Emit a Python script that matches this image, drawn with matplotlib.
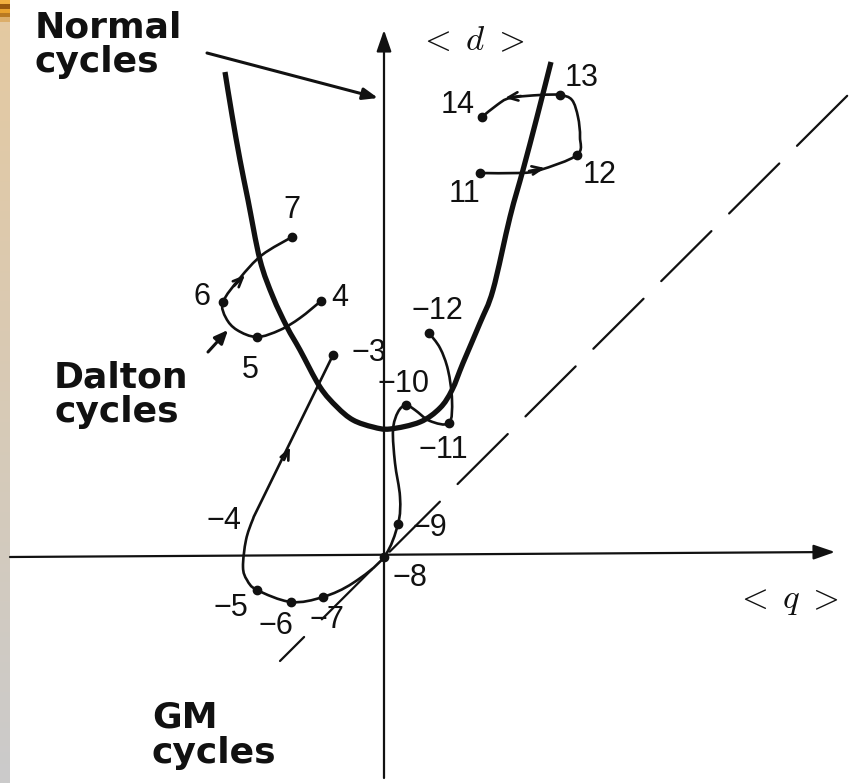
import numpy as np
import matplotlib
matplotlib.use("Agg")
import matplotlib.pyplot as plt
from matplotlib.colors import to_rgb
from matplotlib.path import Path
from matplotlib.patches import PathPatch

plt.rcParams['mathtext.fontset'] = 'cm'
plt.rcParams['lines.scale_dashes'] = False

# ---- phase-plane data: (<q>, <d>) coordinates, origin at the axis crossing ----
normal_q = [-159, -152, -144, -136, -124, -111, -97, -84, -64, -47, -31, -11, 6,
            36, 56, 68, 79, 96, 109, 126, 139, 153, 167]
normal_d = [485, 442, 397, 357, 297, 260, 230, 207, 170, 150, 137, 130, 128,
            135, 149, 167, 194, 234, 267, 340, 387, 440, 495]

# Dalton cycles 4 -> 7 (path points, cycle markers)
dalton_q = [-63, -84, -104, -127, -147, -158, -161, -144, -122, -92]
dalton_d = [256, 239, 227, 220, 227, 239, 255, 279, 302, 320]
dalton_cq = [-63, -127, -161, -92]
dalton_cd = [256, 220, 255, 320]

# Modern cycles 11 -> 14
modern_q = [96, 136, 156, 193, 196, 194, 188, 176, 156, 126, 113, 98]
modern_d = [384, 384, 387, 402, 420, 440, 457, 462, 462, 459, 452, 440]
modern_cq = [96, 193, 176, 98]
modern_cd = [384, 402, 462, 440]

# Gleissberg-minimum cycles -3 -> -12
gm_q = [-51, -122, -131, -138, -141, -137, -127, -93, -61, -31, 0, 14,
        16, 11, 9, 14, 22, 31, 46, 65, 68, 64, 56, 45]
gm_d = [202, 57, 38, 17, -10, -23, -33, -45, -40, -26, 0, 33,
        60, 94, 127, 145, 152, 147, 136, 134, 157, 187, 209, 224]
gm_cq = [-51, -127, -93, -61, 0, 14, 22, 65, 45]
gm_cd = [202, -33, -45, -40, 0, 33, 152, 134, 224]

cycle_labels = ["4", "5", "6", "7", "11", "12", "13", "14",
                "\u22123", "\u22124", "\u22125", "\u22126", "\u22127", "\u22128",
                "\u22129", "\u221210", "\u221211", "\u221212"]
label_q = [-44, -134, -182, -92, 81, 216, 198, 74,
           -15, -160, -153, -108, -57, 26, 46, 20, 59, 53]
label_d = [259, 187, 260, 347, 363, 382, 479, 452,
           204, 36, -51, -69, -63, -21, 29, 173, 107, 246]

# ---- figure ----
fig = plt.figure(figsize=(8.5, 7.83), dpi=100)
ax = fig.add_axes([0, 0, 1, 1])
ax.set_xlim(-384, 466)
ax.set_ylim(-226, 557)
ax.set_axis_off()

# decorative slide strip on the left edge
rows = 783
strip = np.zeros((rows, 1, 3))
top_c = np.array(to_rgb("#e5c9a0"))
bot_c = np.array(to_rgb("#cbcbcb"))
for r in range(rows):
    t = r / (rows - 1)
    strip[r, 0] = top_c * (1 - t) + bot_c * t
bands = [(0, 4, "#f2b040"), (4, 9, "#98580e"), (9, 13, "#e9a22e"),
         (13, 17, "#b97a22"), (17, 22, "#dcae6a")]
for a, b, c in bands:
    strip[a:b, 0] = to_rgb(c)
ax.imshow(strip, extent=(-384, -374, -226, 557), aspect='auto', zorder=0,
          interpolation='bilinear')

ink = "#111111"


def smooth_path(xs, ys, lw, z):
    """Draw a smooth Bezier curve passing through the given points."""
    p = np.column_stack([xs, ys]).astype(float)
    n = len(p)
    verts = [p[0]]
    codes = [Path.MOVETO]
    for i in range(n - 1):
        p0 = p[i - 1] if i > 0 else p[i]
        p1, p2 = p[i], p[i + 1]
        p3 = p[i + 2] if i + 2 < n else p[i + 1]
        c1 = p1 + (p2 - p0) / 6.0
        c2 = p2 - (p3 - p1) / 6.0
        verts += [c1, c2, p2]
        codes += [Path.CURVE4] * 3
    patch = PathPatch(Path(verts, codes), facecolor='none', edgecolor=ink,
                      lw=lw, capstyle='butt', joinstyle='round', zorder=z)
    ax.add_patch(patch)


# axes with arrowheads
ax.annotate("", xy=(451, 5), xytext=(-374, 0),
            arrowprops=dict(arrowstyle="-|>,head_length=1.3,head_width=0.45",
                            lw=1.6, color=ink, shrinkA=0, shrinkB=0))
ax.annotate("", xy=(0, 527), xytext=(0, -221),
            arrowprops=dict(arrowstyle="-|>,head_length=1.3,head_width=0.45",
                            lw=1.6, color=ink, shrinkA=0, shrinkB=0))

# dashed diagonal <d> = <q>
ax.plot([-104, 464], [-104, 462], color=ink, lw=1.6,
        linestyle=(26.5, (51, 18)), dash_capstyle='round')

# normal-cycle curve
smooth_path(normal_q, normal_d, 3.8, 3)

# cycle trajectories
for qs, ds in [(dalton_q, dalton_d), (modern_q, modern_d), (gm_q, gm_d)]:
    smooth_path(qs, ds, 1.9, 4)
for qs, ds in [(dalton_cq, dalton_cd), (modern_cq, modern_cd), (gm_cq, gm_cd)]:
    ax.plot(qs, ds, linestyle='none', marker='o', ms=6, color=ink, zorder=5)


# direction chevrons along trajectories
def chevron(tip, tail):
    ax.annotate("", xy=tip, xytext=tail,
                arrowprops=dict(arrowstyle="->,head_length=0.7,head_width=0.3",
                                lw=1.9, color=ink, shrinkA=0, shrinkB=0), zorder=6)


chevron((-139, 282), (-150, 271))
chevron((161, 389), (145, 386))
chevron((121, 459), (137, 461))
chevron((-94, 110), (-100, 97))

# cycle labels
for txt, x, y in zip(cycle_labels, label_q, label_d):
    ax.text(x, y, txt, family=["Liberation Sans", "DejaVu Sans"], fontsize=22,
            color=ink, ha='center', va='center')

# group names
grp_font = dict(family=["DejaVu Sans"], fontsize=26, fontweight='bold',
                color=ink, ha='left', va='top', linespacing=1.05)
ax.text(-349, 547, "Normal\ncycles", **grp_font)
ax.text(-330, 197, "Dalton\ncycles", **grp_font)
ax.text(-232, -144, "GM\ncycles", **grp_font)

ax.annotate("", xy=(-6, 459), xytext=(-177, 504),
            arrowprops=dict(arrowstyle="-|>,head_length=0.9,head_width=0.35",
                            lw=2.2, color=ink, shrinkA=0, shrinkB=0))
ax.annotate("", xy=(-156, 227), xytext=(-176, 205),
            arrowprops=dict(arrowstyle="-|>,head_length=0.8,head_width=0.35",
                            lw=2.2, color=ink, shrinkA=0, shrinkB=0))

# axis names
ax.text(87, 517, r"$<\;d\;>$", fontsize=25, color=ink, ha='center', va='center')
ax.text(403, -43, r"$<\;q\;>$", fontsize=25, color=ink, ha='center', va='center')

fig.savefig("out.png", dpi=100, facecolor="white")
